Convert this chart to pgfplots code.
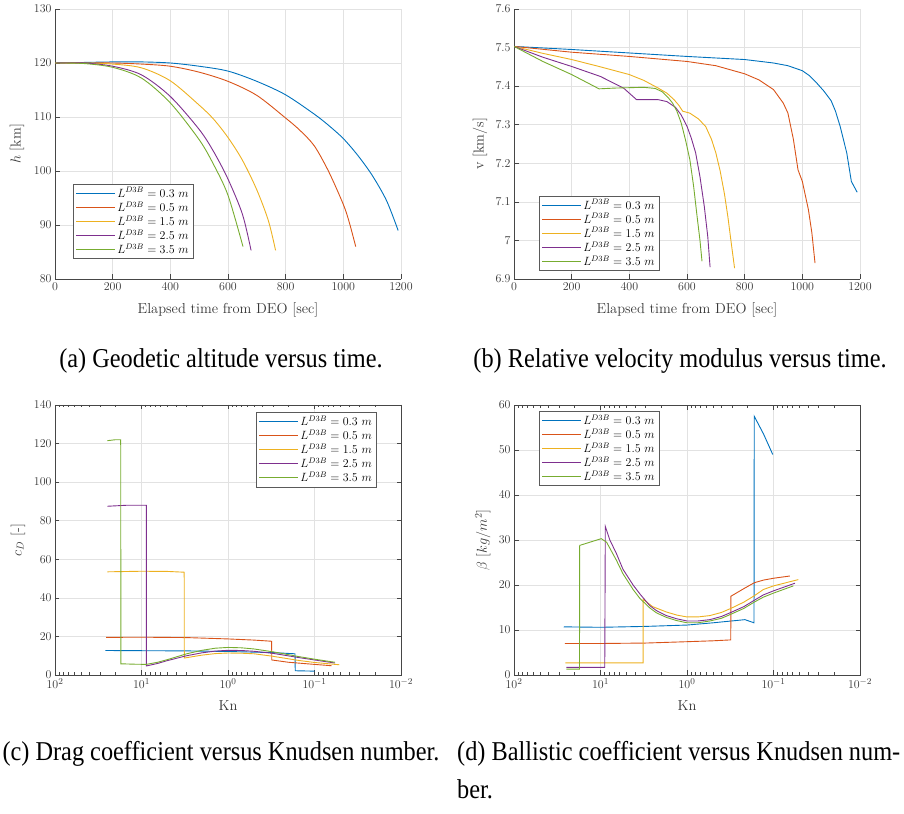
\documentclass[border=0pt]{standalone}
\usepackage{fontspec}
\usepackage{graphicx}
\usepackage{pgfplots}
\pgfplotsset{compat=1.18}
\newfontfamily\capfont{Liberation Serif}
\definecolor{c1}{RGB}{0,114,189}
\definecolor{c2}{RGB}{217,83,25}
\definecolor{c3}{RGB}{237,177,32}
\definecolor{c4}{RGB}{126,47,142}
\definecolor{c5}{RGB}{119,172,48}
\definecolor{axgray}{RGB}{70,70,70}
\definecolor{labgray}{RGB}{55,55,55}
\definecolor{gridgray}{RGB}{226,226,226}
\definecolor{leggray}{RGB}{90,90,90}
\newcommand{\labfont}{\fontsize{14.5}{16}\selectfont}
\pgfplotsset{
  lg/.style={color=#1, legend image code/.code={\pgftext[left]{\textcolor{#1}{\rule[-0.45bp]{39bp}{0.9bp}}}}},
  mstyle/.style={
    scale only axis, width=346bp, height=270bp, anchor=south west,
    axis line style={draw=axgray, line width=0.6bp},
    tick style={draw=axgray, line width=0.5bp},
    tick align=inside,
    major tick length=4.5bp, minor tick length=2.5bp,
    grid=major, major grid style={draw=gridgray, line width=0.6bp},
    tick label style={font=\fontsize{12.5}{14}\selectfont, text=labgray},
    /pgf/number format/1000 sep={},
    legend style={font=\fontsize{11.5}{13}\selectfont, draw=leggray, fill=white,
      line width=0.7bp, row sep=-1.2bp, inner xsep=3bp, inner ysep=1.5bp},
    legend cell align=left,
    every axis plot/.append style={line width=0.9bp, mark=none},
    cycle list={{lg=c1},{lg=c2},{lg=c3},{lg=c4},{lg=c5}},
    every axis x label/.style={at={(axis description cs:0.5,-0.115)}, anchor=center, font=\labfont, text=labgray},
  },
  timestyle/.style={mstyle,
    axis x line*=bottom, axis y line*=left,
    x axis line style={-}, y axis line style={-},
    xmin=0, xmax=1200, xtick={0,200,400,600,800,1000,1200},
    xlabel={Elapsed time from DEO [sec]},
  },
  knstyle/.style={mstyle,
    x dir=reverse, xmin=0.01, xmax=100,
    xtick={0.01,0.1,1,10,100},
    xtick pos=both, ytick pos=both,
    xlabel={Kn},
  },
  ylab/.style={every axis y label/.style={at={(axis description cs:#1,0.5)}, rotate=90, anchor=center, font=\labfont, text=labgray}},
}
\begin{document}
\begin{tikzpicture}
\useasboundingbox (0bp,0bp) rectangle (904bp,814bp);

% (a)
\begin{axis}[timestyle, at={(55bp,535bp)},
  ymin=80, ymax=130, ytick={80,90,100,110,120,130},
  ylabel={$h$ [km]}, ylab=-0.11,
  legend style={at={(axis description cs:0.052,0.353)}, anchor=north west}]
\addplot+[smooth] coordinates {(0,120) (100,120.1) (200,120.2) (300,120.2) (400,120.0) (500,119.4) (600,118.5) (700,116.6) (800,114.1) (900,110.5) (950,108.4) (1000,106.0) (1050,102.9) (1100,99.2) (1150,94.5) (1190,89)};
\addplot+[smooth] coordinates {(0,120) (100,120) (200,120) (300,119.8) (400,119.4) (500,118.3) (600,116.6) (700,114) (800,109.8) (850,107.5) (900,104.6) (950,99.8) (1000,93.8) (1020,90.6) (1043,86)};
\addplot+[smooth] coordinates {(0,120) (100,120) (200,119.8) (300,119.1) (400,116.7) (500,112.2) (550,109.6) (600,106.2) (650,102) (700,96.5) (740,90.8) (765,85.3)};
\addplot+[smooth] coordinates {(0,120) (100,120) (200,119.4) (300,117.8) (400,113.8) (500,107.7) (550,103.6) (600,98.5) (650,92) (680,85.3)};
\addplot+[smooth] coordinates {(0,120) (100,119.9) (200,119.2) (300,117.2) (400,112.6) (500,105.8) (550,101.2) (600,95.5) (652,86)};
\legend{$L^{D3B}=0.3\ m$,$L^{D3B}=0.5\ m$,$L^{D3B}=1.5\ m$,$L^{D3B}=2.5\ m$,$L^{D3B}=3.5\ m$}
\end{axis}

% (b)
\begin{axis}[timestyle, at={(514bp,535bp)},
  ymin=6.9, ymax=7.6, ytick={6.9,7,7.1,7.2,7.3,7.4,7.5,7.6},
  ylabel={v [km/s]}, ylab=-0.098,
  legend style={at={(axis description cs:0.072,0.309)}, anchor=north west}]
\addplot coordinates {(0,7.503) (200,7.495) (400,7.486) (600,7.477) (800,7.469) (900,7.46) (950,7.453) (1000,7.44) (1025,7.427) (1050,7.408) (1075,7.387) (1100,7.362) (1115,7.335) (1131,7.296) (1143,7.26) (1154,7.227) (1162,7.19) (1170,7.153) (1190,7.125)};
\addplot coordinates {(0,7.503) (200,7.488) (400,7.477) (600,7.464) (700,7.453) (800,7.432) (850,7.416) (900,7.391) (934,7.356) (950,7.33) (969,7.262) (985,7.183) (1000,7.153) (1021,7.08) (1033,7.02) (1044,6.941)};
\addplot coordinates {(0,7.503) (100,7.485) (200,7.469) (300,7.45) (400,7.43) (450,7.415) (500,7.395) (530,7.382) (555,7.365) (572,7.35) (585,7.335) (610,7.33) (640,7.315) (665,7.295) (685,7.262) (700,7.227) (715,7.18) (730,7.12) (742,7.06) (754,6.99) (765,6.928)};
\addplot coordinates {(0,7.503) (100,7.475) (200,7.451) (300,7.425) (380,7.395) (425,7.365) (500,7.365) (530,7.36) (560,7.345) (580,7.325) (600,7.296) (615,7.265) (630,7.227) (645,7.165) (660,7.088) (672,7.01) (680,6.931)};
\addplot coordinates {(0,7.503) (100,7.464) (200,7.43) (295,7.393) (350,7.395) (450,7.397) (490,7.394) (515,7.385) (535,7.37) (550,7.356) (565,7.335) (580,7.304) (595,7.26) (610,7.209) (623,7.14) (635,7.062) (645,7.0) (652,6.946)};
\legend{$L^{D3B}=0.3\ m$,$L^{D3B}=0.5\ m$,$L^{D3B}=1.5\ m$,$L^{D3B}=2.5\ m$,$L^{D3B}=3.5\ m$}
\end{axis}

% (c)
\begin{axis}[xmode=log, knstyle, at={(55bp,139bp)},
  ymin=0, ymax=140, ytick={0,20,40,60,80,100,120,140},
  ylabel={$c_D$ [-]}, ylab=-0.107,
  legend style={at={(axis description cs:0.931,0.974)}, anchor=north east}]
\addplot coordinates {(26.2,12.7) (10,12.6) (3,12.5) (1,12.2) (0.3,11.6) (0.168,11.0) (0.167,2.2) (0.1,2.0)};
\addplot coordinates {(25.7,19.5) (10,19.6) (3,19.4) (1,18.7) (0.5,18.1) (0.313,17.5) (0.312,7.8) (0.2,6.6) (0.1,5.5) (0.0633,4.8)};
\addplot coordinates {(24.8,53.5) (10,53.8) (5,53.7) (3.21,53.3) (3.2,8.8) (2,10.3) (1.4,11.1) (1,11.4) (0.7,11.3) (0.5,11) (0.313,9.8) (0.15,7.5) (0.1,6.5) (0.0516,5.3)};
\addplot coordinates {(24.8,87.5) (15,88) (8.8,88) (8.79,4.7) (6.5,6) (5,7.5) (3,10) (2,11.5) (1.4,12.4) (1,12.8) (0.7,12.7) (0.5,12.3) (0.3,11.2) (0.15,9) (0.1,7.8) (0.058,6.2)};
\addplot coordinates {(24.8,121.5) (20,122) (17.4,122) (17.3,5.8) (12,5.6) (8.8,5.5) (6.5,6.6) (5,8) (3,11) (2,12.8) (1.4,13.9) (1,14.3) (0.7,14.1) (0.5,13.5) (0.3,12) (0.15,9.5) (0.1,8.2) (0.058,6.6)};
\legend{$L^{D3B}=0.3\ m$,$L^{D3B}=0.5\ m$,$L^{D3B}=1.5\ m$,$L^{D3B}=2.5\ m$,$L^{D3B}=3.5\ m$}
\end{axis}

% (d)
\begin{axis}[xmode=log, knstyle, at={(514bp,139bp)},
  ymin=0, ymax=60, ytick={0,10,20,30,40,50,60},
  ylabel={$\beta\ [kg/m^2]$}, ylab=-0.09,
  legend style={at={(axis description cs:0.072,0.978)}, anchor=north west}]
\addplot coordinates {(26.6,10.7) (10,10.6) (3,10.8) (1,11.1) (0.5,11.6) (0.214,12.3) (0.168,11.6) (0.167,57.5) (0.13,53.5) (0.102,49)};
\addplot coordinates {(25.9,7.0) (10,7.0) (3,7.1) (1,7.4) (0.5,7.6) (0.312,7.8) (0.311,17.5) (0.22,19.2) (0.167,20.5) (0.13,21.1) (0.1,21.5) (0.0646,22)};
\addplot coordinates {(25.5,2.7) (10,2.7) (3.22,2.7) (3.21,16.8) (2.5,15.2) (1.73,14) (1.3,13.3) (1,12.9) (0.75,12.9) (0.545,13.2) (0.4,13.9) (0.311,14.8) (0.22,16.2) (0.167,17.6) (0.131,19) (0.1,19.8) (0.0517,21.2)};
\addplot coordinates {(24.8,1.7) (15,1.7) (8.93,1.7) (8.8,33) (7.8,30) (6.55,27) (5.5,23.5) (4.2,20) (3.5,18) (2.69,15.4) (2.25,14.3) (1.73,13.2) (1.32,12.5) (1,12) (0.75,12) (0.545,12.3) (0.4,13) (0.311,13.9) (0.22,15.2) (0.167,16.6) (0.131,17.8) (0.1,18.7) (0.0565,20.4)};
\addplot coordinates {(24.8,1.3) (17.5,1.3) (17.4,28.8) (9.8,30.3) (8.5,29.5) (6.55,25.5) (5.5,22.5) (4.2,19) (3.5,17) (2.69,14.9) (2.25,13.8) (1.73,12.8) (1.32,12.1) (1,11.6) (0.75,11.6) (0.545,12) (0.4,12.6) (0.311,13.5) (0.22,14.8) (0.167,16.2) (0.131,17.3) (0.1,18.2) (0.059,19.8)};
\legend{$L^{D3B}=0.3\ m$,$L^{D3B}=0.5\ m$,$L^{D3B}=1.5\ m$,$L^{D3B}=2.5\ m$,$L^{D3B}=3.5\ m$}
\end{axis}

% captions
\node[anchor=base, inner sep=0pt] at (221bp,446bp) {\scalebox{1}[1.12]{\capfont\fontsize{24.4}{28}\selectfont (a) Geodetic altitude versus time.}};
\node[anchor=base, inner sep=0pt] at (680bp,446bp) {\scalebox{1}[1.12]{\capfont\fontsize{24.4}{28}\selectfont (b) Relative velocity modulus versus time.}};
\node[anchor=base, inner sep=0pt] at (221bp,53bp) {\scalebox{1}[1.12]{\capfont\fontsize{24.4}{28}\selectfont (c) Drag coefficient versus Knudsen number.}};
\node[anchor=base west, inner sep=0pt] at (457bp,53bp) {\scalebox{1}[1.12]{\capfont\fontsize{24.4}{28}\selectfont (d) Ballistic coefficient versus Knudsen num-}};
\node[anchor=base west, inner sep=0pt] at (457bp,16bp) {\scalebox{1}[1.12]{\capfont\fontsize{24.4}{28}\selectfont ber.}};
\end{tikzpicture}
\end{document}
